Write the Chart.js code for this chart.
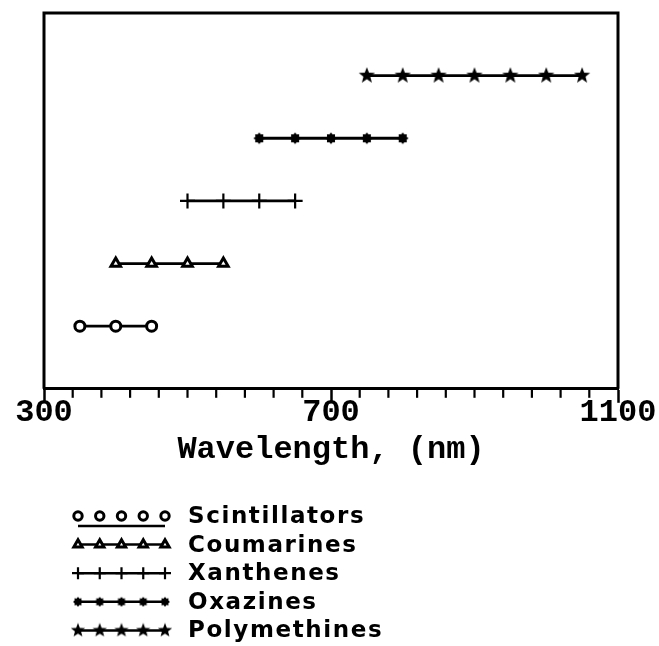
<!DOCTYPE html>
<html>
<head>
<meta charset="utf-8">
<script src="https://cdn.jsdelivr.net/npm/chart.js@4"></script>
<style>
  html, body { margin: 0; padding: 0; background: #fff; }
  canvas { display: block; }
</style>
</head>
<body>
<canvas id="dyes" width="659" height="646"></canvas>
<script>
// lasing ranges (nm) of each dye family, one row per family
const dyeNames = ['Scintillators', 'Coumarines', 'Xanthenes', 'Oxazines', 'Polymethines']
const rowLevels = [1, 2, 3, 4, 5]
const scintillators = [350, 400, 450]
const coumarines = [400, 450, 500, 550]
const xanthenes = [500, 550, 600, 650]
const oxazines = [600, 650, 700, 750, 800]
const polymethines = [750, 800, 850, 900, 950, 1000, 1050]
const labeledTicks = [300, 700, 1100]

const ranges = [scintillators, coumarines, xanthenes, oxazines, polymethines]

// filled five-point star marker
function makeStar(size, outer, inner) {
    const c = document.createElement('canvas')
    c.width = size
    c.height = size
    const g = c.getContext('2d')
    g.fillStyle = '#000'
    g.beginPath()
    for (let i = 0; i < 10; i++) {
        const r = i % 2 === 0 ? outer : inner
        const a = -Math.PI / 2 + i * Math.PI / 5
        const px = size / 2 + r * Math.cos(a)
        const py = size / 2 + r * Math.sin(a)
        if (i === 0) g.moveTo(px, py)
        else g.lineTo(px, py)
    }
    g.closePath()
    g.fill()
    return c
}

// small spiky blob for the oxazines
function makeBlob(size, outer, inner) {
    const c = document.createElement('canvas')
    c.width = size
    c.height = size
    const g = c.getContext('2d')
    g.fillStyle = '#000'
    g.beginPath()
    for (let i = 0; i < 16; i++) {
        const r = i % 2 === 0 ? outer : inner
        const a = i * Math.PI / 8
        const px = size / 2 + r * Math.cos(a)
        const py = size / 2 + r * Math.sin(a)
        if (i === 0) g.moveTo(px, py)
        else g.lineTo(px, py)
    }
    g.closePath()
    g.fill()
    return c
}

const starBig = makeStar(18, 8.5, 3.6)
const starSmall = makeStar(16, 7.5, 3.2)
const blobBig = makeBlob(14, 5.8, 4.2)
const blobSmall = makeBlob(12, 5, 3.6)

const markers = [
    { pointStyle: 'circle', radius: 5, legendRadius: 4.2, fill: '#fff', width: 3 },
    { pointStyle: 'triangle', radius: 5.5, legendRadius: 4.8, fill: '#fff', width: 3 },
    { pointStyle: 'cross', radius: 7.5, legendRadius: 6, fill: '#000', width: 2.2 },
    { pointStyle: blobBig, legendStyle: blobSmall, radius: 6, legendRadius: 5, fill: '#000', width: 1 },
    { pointStyle: starBig, legendStyle: starSmall, radius: 8, legendRadius: 7, fill: '#000', width: 1 },
]

const datasets = dyeNames.map((name, i) => {
    return {
        label: name,
        data: ranges[i].map((w) => ({ x: w, y: rowLevels[i] })),
        borderColor: '#000',
        borderWidth: 2.8,
        pointStyle: markers[i].pointStyle,
        pointRadius: markers[i].radius,
        pointBackgroundColor: markers[i].fill,
        pointBorderColor: '#000',
        pointBorderWidth: markers[i].width,
        tension: 0,
        clip: false,
    }
})

function drawMarker(ctx, style, radius, fill, width, x, y) {
    if (style instanceof HTMLCanvasElement) {
        ctx.drawImage(style, x - style.width / 2, y - style.height / 2)
        return
    }
    ctx.save()
    ctx.fillStyle = fill
    ctx.strokeStyle = '#000'
    ctx.lineWidth = width
    Chart.helpers.drawPoint(ctx, { pointStyle: style, radius: radius, borderWidth: width, rotation: 0 }, x, y)
    ctx.restore()
}

// frame, minor ticks and the stacked legend under the axis
const framePlugin = {
    id: 'frameAndLegend',
    afterDraw(chart) {
        const ctx = chart.ctx
        const area = chart.chartArea
        const xs = chart.scales.x

        ctx.save()
        ctx.strokeStyle = '#000'
        ctx.lineWidth = 3
        ctx.beginPath()
        ctx.moveTo(area.left, area.bottom)
        ctx.lineTo(area.left, area.top)
        ctx.lineTo(area.right, area.top)
        ctx.lineTo(area.right, area.bottom)
        ctx.stroke()

        ctx.lineWidth = 2.2
        xs.ticks.forEach((t) => {
            if (labeledTicks.includes(t.value)) return
            const px = xs.getPixelForValue(t.value)
            ctx.beginPath()
            ctx.moveTo(px, area.bottom)
            ctx.lineTo(px, area.bottom + 9)
            ctx.stroke()
        })

        const rowTop = 516
        const rowGap = 28.6
        const symLeft = 78
        const symRight = 165
        ctx.font = 'bold 23px "DejaVu Sans"'
        ctx.letterSpacing = '1.6px'
        ctx.fillStyle = '#000'
        ctx.textBaseline = 'middle'
        chart.data.datasets.forEach((ds, i) => {
            const y = rowTop + i * rowGap
            const m = markers[i]
            const lineY = i === 0 ? y + 10 : y
            ctx.strokeStyle = '#000'
            ctx.lineWidth = 2.5
            ctx.beginPath()
            ctx.moveTo(symLeft, lineY)
            ctx.lineTo(symRight, lineY)
            ctx.stroke()
            for (let k = 0; k < 5; k++) {
                const px = symLeft + k * (symRight - symLeft) / 4
                drawMarker(ctx, m.legendStyle || m.pointStyle, m.legendRadius, m.fill, m.width, px, y)
            }
            ctx.fillStyle = '#000'
            ctx.fillText(ds.label, 188, y + 1)
        })
        ctx.restore()
    },
}

new Chart(document.getElementById('dyes').getContext('2d'), {
    type: 'line',
    data: { datasets: datasets },
    options: {
        responsive: false,
        animation: false,
        layout: {
            padding: { left: 44, right: 41, top: 13, bottom: 178 },
        },
        plugins: {
            legend: { display: false },
            tooltip: { enabled: false },
        },
        scales: {
            x: {
                type: 'linear',
                min: 300,
                max: 1100,
                border: { display: true, color: '#000', width: 3 },
                grid: {
                    drawOnChartArea: false,
                    drawTicks: true,
                    tickLength: 14,
                    tickWidth: 2.5,
                    tickColor: (c) => (c.tick && labeledTicks.includes(c.tick.value) ? '#000' : 'rgba(0,0,0,0)'),
                },
                ticks: {
                    stepSize: 40,
                    autoSkip: false,
                    maxRotation: 0,
                    padding: -6,
                    color: '#000',
                    font: { family: '"Liberation Mono"', size: 32, weight: 'bold', lineHeight: 1 },
                    callback: (v) => (labeledTicks.includes(v) ? String(v) : ''),
                },
                title: {
                    display: true,
                    text: 'Wavelength, (nm)',
                    color: '#000',
                    font: { family: '"Liberation Mono"', size: 32, weight: 'bold', lineHeight: 1.1 },
                    padding: { top: 10, bottom: 0 },
                },
            },
            y: {
                display: false,
                min: 0,
                max: 6,
            },
        },
    },
    plugins: [framePlugin],
})
</script>
</body>
</html>
